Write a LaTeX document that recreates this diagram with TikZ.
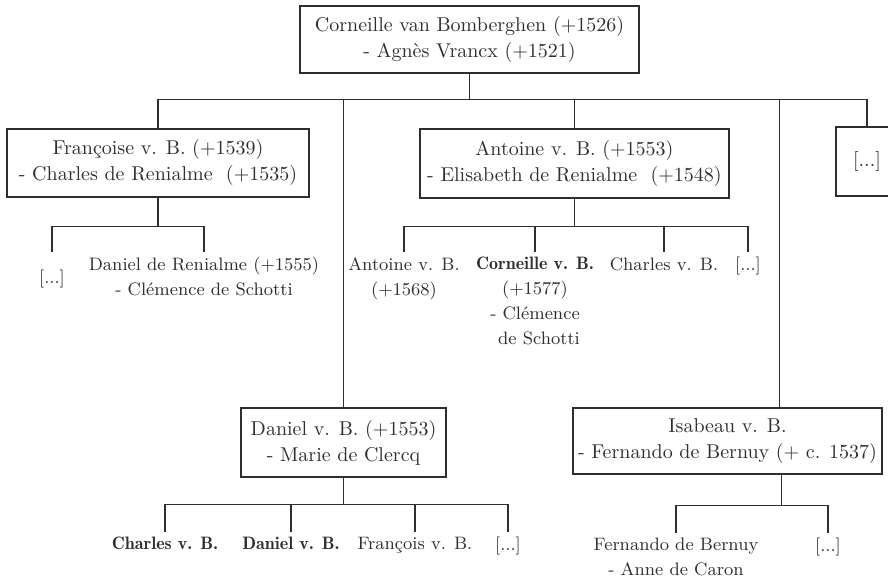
\documentclass[tikz,border=0pt]{standalone}
\usepackage{tikz}
\usetikzlibrary{positioning}
\tikzset{
  fambox/.style = {draw, line width=0.6pt, align=center, inner sep=0pt, font=\fontsize{10}{13}\selectfont},
  kid/.style = {align=center, anchor=north, inner sep=2.5pt, font=\fontsize{9}{12.5}\selectfont},
  tie/.style = {line width=0.6pt}
}
\newcommand{\kidbf}[1]{{\fontseries{b}\selectfont #1}}
\begin{document}
\begin{tikzpicture}[x=0.5pt, y=-0.5pt, color=black!82]
            \useasboundingbox (0,0) rectangle (888,582);

            \node[fambox, minimum width=169.5pt, minimum height=33.5pt] (root) at (469.5, 39.5) {Corneille van Bomberghen (+1526)\\- Agnès Vrancx (+1521)};
            \node[fambox, minimum width=151pt, minimum height=34pt] (fran) at (158, 163) {Françoise v. B. (+1539)\\- Charles de Renialme\ \ (+1535)};
            \node[fambox, minimum width=154.5pt, minimum height=34.5pt] (anto) at (574.5, 163.5) {Antoine v. B. (+1553)\\- Elisabeth de Renialme\ \ (+1548)};
            \node[fambox, minimum width=31pt, minimum height=34.5pt] (more) at (867, 161.5) {[...]};
            \node[fambox, minimum width=102.5pt, minimum height=34.5pt] (dani) at (343.5, 442.5) {Daniel v. B. (+1553)\\- Marie de Clercq};
            \node[fambox, minimum width=154.5pt, minimum height=33pt] (isab) at (727.5, 441) {Isabeau v. B.\\- Fernando de Bernuy (+ c. 1537)};

            \node[kid, anchor=center] (fmore) at (52, 279) {[...]};
            \node[kid] (fdan) at (204, 252) {Daniel de Renialme (+1555)\\- Clémence de Schotti};

            \node[kid] (aant) at (404, 252) {Antoine v. B.\\(+1568)};
            \node[kid] (acor) at (535, 252) {\kidbf{Corneille v. B.}\\(+1577)\\- Clémence\\\hspace*{4pt}de Schotti};
            \node[kid] (acha) at (664, 252) {Charles v. B.};
            \node[kid] (amore) at (748, 252) {[...]};

            \node[kid] (dcha) at (165, 532) {\kidbf{Charles v. B.}};
            \node[kid] (ddan) at (291, 532) {\kidbf{Daniel v. B.}};
            \node[kid] (dfra) at (415, 532) {François v. B.};
            \node[kid] (dmore) at (508, 532) {[...]};

            \node[kid] (ifer) at (676, 533) {Fernando de Bernuy\\- Anne de Caron};
            \node[kid] (imore) at (828, 533) {[...]};

            \draw[tie] (root.south) -- ++(0,26) coordinate (rbus);
            \draw[tie] (fran.north) |- (rbus) -| (more.north);
            \draw[tie] (dani.north) -- (dani.north |- rbus);
            \draw[tie] (anto.north) -- (anto.north |- rbus);
            \draw[tie] ([xshift=26pt]isab.north) -- ([xshift=26pt]isab.north |- rbus);

            \draw[tie] (fran.south) -- ++(0,29) coordinate (fbus);
            \draw[tie] (fmore |- fdan.north) |- (fbus) -| (fdan.north);

            \draw[tie] (anto.south) -- ++(0,28) coordinate (abus);
            \draw[tie] (aant.north) |- (abus) -| (amore.north);
            \draw[tie] (acor.north) -- (acor.north |- abus);
            \draw[tie] (acha.north) -- (acha.north |- abus);

            \draw[tie] (dani.south) -- ++(0,27) coordinate (dbus);
            \draw[tie] (dcha.north) |- (dbus) -| (dmore.north);
            \draw[tie] (ddan.north) -- (ddan.north |- dbus);
            \draw[tie] (dfra.north) -- (dfra.north |- dbus);

            \draw[tie] ([xshift=27pt]isab.south) -- ++(0,31) coordinate (ibus);
            \draw[tie] (ifer.north) |- (ibus) -| (imore.north);

\end{tikzpicture}
\end{document}
